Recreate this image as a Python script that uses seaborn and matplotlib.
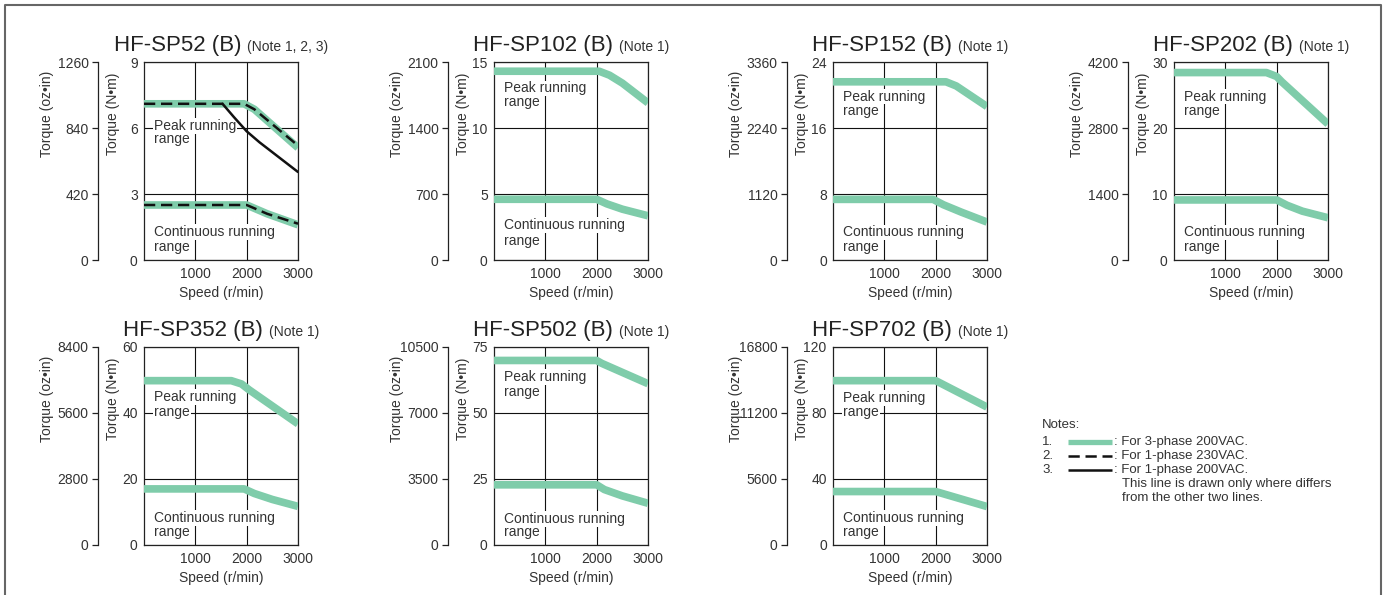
import matplotlib
matplotlib.use("Agg")
import matplotlib.pyplot as plt
from matplotlib.lines import Line2D
from matplotlib.offsetbox import TextArea, HPacker, AnchoredOffsetbox
import seaborn as sns

# ---- data ----
models = ["HF-SP52 (B)", "HF-SP102 (B)", "HF-SP152 (B)", "HF-SP202 (B)",
          "HF-SP352 (B)", "HF-SP502 (B)", "HF-SP702 (B)"]
notes = ["(Note 1, 2, 3)", "(Note 1)", "(Note 1)", "(Note 1)",
         "(Note 1)", "(Note 1)", "(Note 1)"]
torque_max = [9, 15, 24, 30, 60, 75, 120]   # N·m axis top
oz_per_nm = 140                               # oz·in scale used on the chart
speed_ticks = [1000, 2000, 3000]

# 3-phase 200VAC, peak running range
peak_speed = [[0, 1950, 2150, 3000],
              [0, 2050, 2250, 2500, 3000],
              [0, 2200, 2400, 3000],
              [0, 1800, 2000, 2100, 3000],
              [0, 1700, 1900, 2050, 3000],
              [0, 2000, 2100, 3000],
              [0, 2000, 3000]]
peak_torque = [[7.1, 7.1, 6.85, 5.1],
               [14.3, 14.3, 14.0, 13.4, 11.9],
               [21.6, 21.6, 21.1, 18.6],
               [28.4, 28.4, 27.8, 27.0, 20.6],
               [49.8, 49.8, 48.8, 47.0, 36.7],
               [69.9, 69.9, 68.8, 61.1],
               [99.6, 99.6, 83.6]]

# 3-phase 200VAC, continuous running range
cont_speed = [[0, 2000, 2150, 2400, 3000],
              [0, 2000, 2200, 2500, 3000],
              [0, 1950, 2150, 2500, 3000],
              [0, 2000, 2200, 2500, 3000],
              [0, 1950, 2150, 2500, 3000],
              [0, 2000, 2150, 2500, 3000],
              [0, 2000, 3000]]
cont_torque = [[2.5, 2.5, 2.35, 2.1, 1.6],
               [4.6, 4.6, 4.25, 3.85, 3.35],
               [7.35, 7.35, 6.7, 5.8, 4.6],
               [9.1, 9.1, 8.3, 7.4, 6.4],
               [17.0, 17.0, 15.6, 13.8, 11.7],
               [22.8, 22.8, 21.0, 18.6, 15.8],
               [32.4, 32.4, 23.3]]

# HF-SP52 single-phase curves
sp52_230_peak_speed = [0, 1950, 2150, 3000]
sp52_230_peak_torque = [7.1, 7.1, 6.85, 5.2]
sp52_230_cont_speed = [0, 2000, 2150, 2400, 3000]
sp52_230_cont_torque = [2.5, 2.5, 2.35, 2.1, 1.65]
sp52_200_peak_speed = [1530, 1750, 2000, 2250, 2500, 2750, 3000]
sp52_200_peak_torque = [7.1, 6.5, 5.85, 5.35, 4.9, 4.45, 4.0]

note_lines = ["Notes:", ": For 3-phase 200VAC.", ": For 1-phase 230VAC.",
              ": For 1-phase 200VAC.", "This line is drawn only where differs",
              "from the other two lines."]

# ---- layout (pixels on a 1385 x 595 canvas) ----
W, H = 1385, 595
AX_W, AX_H = 154, 198
panel_xy = [(144, 62), (494, 62), (833, 62), (1174, 62),
            (144, 347), (494, 347), (833, 347)]
# axes-fraction heights of "Peak running", "range", "Continuous running", "range"
label_y = [(0.677, 0.61, 0.141, 0.067),
           (0.867, 0.796, 0.177, 0.097),
           (0.825, 0.754, 0.139, 0.064),
           (0.825, 0.754, 0.139, 0.064),
           (0.746, 0.67, 0.136, 0.064),
           (0.85, 0.774, 0.131, 0.064),
           (0.744, 0.67, 0.138, 0.064)]

GREEN = "#7fccaa"
TXT = "#333333"
DASH = (0, (4.5, 2.3))

sns.set_style("white")
plt.rcParams["font.family"] = ["Liberation Sans", "DejaVu Sans"]

fig = plt.figure(figsize=(W / 100, H / 100), dpi=100)


def fx(px):
    return px / W


def fy(py):
    return 1 - py / H


for i, (px, py) in enumerate(panel_xy):
    ax = fig.add_axes([fx(px), fy(py + AX_H), AX_W / W, AX_H / H])
    ymax = torque_max[i]
    yt = [0, ymax / 3, 2 * ymax / 3, ymax]

    sns.lineplot(x=peak_speed[i], y=peak_torque[i], ax=ax, color=GREEN, lw=5.5,
                 sort=False, estimator=None, solid_capstyle="butt",
                 solid_joinstyle="round", zorder=4)
    sns.lineplot(x=cont_speed[i], y=cont_torque[i], ax=ax, color=GREEN, lw=5.5,
                 sort=False, estimator=None, solid_capstyle="butt",
                 solid_joinstyle="round", zorder=4)
    if i == 0:
        sns.lineplot(x=sp52_200_peak_speed, y=sp52_200_peak_torque, ax=ax,
                     color="#111111", lw=1.8, sort=False, estimator=None, zorder=5)
        sns.lineplot(x=sp52_230_peak_speed, y=sp52_230_peak_torque, ax=ax,
                     color="#111111", lw=1.8, linestyle=DASH, sort=False,
                     estimator=None, zorder=6)
        sns.lineplot(x=sp52_230_cont_speed, y=sp52_230_cont_torque, ax=ax,
                     color="#111111", lw=1.8, linestyle=DASH, sort=False,
                     estimator=None, zorder=6)

    ax.set_xlim(0, 3000)
    ax.set_ylim(0, ymax)
    ax.set_xticks(speed_ticks)
    ax.set_yticks(yt)
    ax.set_yticklabels([f"{v:g}" for v in yt])
    ax.set_axisbelow(True)
    ax.grid(True, color="#111111", lw=0.8)
    ax.tick_params(length=0, labelsize=10, labelcolor=TXT)
    ax.tick_params(axis="y", pad=4.5)
    ax.tick_params(axis="x", pad=5)
    ax.set_xlabel("")
    ax.set_ylabel("")
    for sp in ax.spines.values():
        sp.set_visible(True)
        sp.set_color("#222222")
        sp.set_linewidth(0.9)

    # secondary oz·in scale
    sec = ax.secondary_yaxis(-0.297, functions=(lambda v: v * oz_per_nm,
                                                 lambda v: v / oz_per_nm))
    sec.set_yticks([v * oz_per_nm for v in yt])
    sec.set_yticklabels([f"{v * oz_per_nm:.0f}" for v in yt])
    sec.tick_params(length=4, width=0.9, pad=3, labelsize=10,
                    labelcolor=TXT, color="#222222")
    sec.spines["left"].set_color("#222222")
    sec.spines["left"].set_linewidth(0.9)

    ax.text(-0.2, 0.74, "Torque (N•m)", transform=ax.transAxes, rotation=90,
            ha="center", va="center", fontsize=10, color=TXT)
    ax.text(-0.63, 0.74, "Torque (oz•in)", transform=ax.transAxes, rotation=90,
            ha="center", va="center", fontsize=10, color=TXT)
    ax.text(0.5, -0.167, "Speed (r/min)", transform=ax.transAxes,
            ha="center", va="center", fontsize=10, color=TXT)

    ly = label_y[i]
    for txt, yy in zip(["Peak running", "range", "Continuous running", "range"], ly):
        ax.text(0.065, yy, txt, transform=ax.transAxes, ha="left", va="center",
                fontsize=10, color=TXT, zorder=3,
                bbox=dict(facecolor="white", edgecolor="none", pad=0.6))

    big = TextArea(models[i], textprops=dict(fontsize=16, color="#222222"))
    small = TextArea(notes[i], textprops=dict(fontsize=10, color=TXT))
    box = HPacker(children=[big, small], align="baseline", pad=0, sep=4)
    anch = AnchoredOffsetbox(loc="lower center", child=box, pad=0, borderpad=0,
                             frameon=False, bbox_to_anchor=(0.5, 1.03),
                             bbox_transform=ax.transAxes)
    ax.add_artist(anch)

# ---- notes / legend ----
fs = 9.5
fig.text(fx(1042), fy(425), note_lines[0], fontsize=fs, color=TXT, va="center")
rows = [441.7, 456, 470]
for k, yy in enumerate(rows):
    fig.text(fx(1042), fy(yy), f"{k + 1}.", fontsize=fs, color=TXT, va="center")
    fig.text(fx(1114), fy(yy), note_lines[k + 1], fontsize=fs, color=TXT, va="center")
fig.add_artist(Line2D([fx(1068), fx(1112)], [fy(rows[0])] * 2, color=GREEN,
                      lw=3.8, solid_capstyle="butt", transform=fig.transFigure))
fig.add_artist(Line2D([fx(1068), fx(1112)], [fy(rows[1])] * 2, color="#111111",
                      lw=1.8, linestyle=DASH, transform=fig.transFigure))
fig.add_artist(Line2D([fx(1068), fx(1112)], [fy(rows[2])] * 2, color="#111111",
                      lw=1.8, solid_capstyle="butt", transform=fig.transFigure))
fig.text(fx(1122), fy(484), note_lines[4], fontsize=fs, color=TXT, va="center")
fig.text(fx(1122), fy(498.3), note_lines[5], fontsize=fs, color=TXT, va="center")

# ---- outer frame ----
fig.add_artist(Line2D([fx(5), fx(5), fx(1381), fx(1381)],
                      [0, fy(5), fy(5), 0], color="#666666", lw=1.5,
                      transform=fig.transFigure))

fig.savefig("out.png", dpi=100)
